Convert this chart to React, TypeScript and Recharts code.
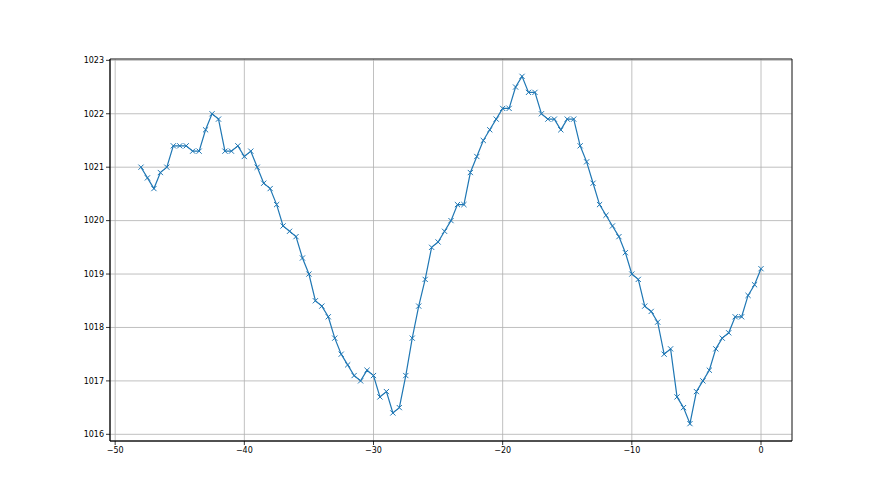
import * as React from "react"
import {
  LineChart,
  Line,
  XAxis,
  YAxis,
  CartesianGrid,
  ReferenceArea,
} from "recharts"

const hours = [
  -48, -47.5, -47, -46.5, -46, -45.5, -45, -44.5, -44, -43.5,
  -43, -42.5, -42, -41.5, -41, -40.5, -40, -39.5, -39, -38.5,
  -38, -37.5, -37, -36.5, -36, -35.5, -35, -34.5, -34, -33.5,
  -33, -32.5, -32, -31.5, -31, -30.5, -30, -29.5, -29, -28.5,
  -28, -27.5, -27, -26.5, -26, -25.5, -25, -24.5, -24, -23.5,
  -23, -22.5, -22, -21.5, -21, -20.5, -20, -19.5, -19, -18.5,
  -18, -17.5, -17, -16.5, -16, -15.5, -15, -14.5, -14, -13.5,
  -13, -12.5, -12, -11.5, -11, -10.5, -10, -9.5, -9, -8.5,
  -8, -7.5, -7, -6.5, -6, -5.5, -5, -4.5, -4, -3.5,
  -3, -2.5, -2, -1.5, -1, -0.5, 0,
]

const pressure = [
  1021.0, 1020.8, 1020.6, 1020.9, 1021.0, 1021.4, 1021.4, 1021.4, 1021.3, 1021.3,
  1021.7, 1022.0, 1021.9, 1021.3, 1021.3, 1021.4, 1021.2, 1021.3, 1021.0, 1020.7,
  1020.6, 1020.3, 1019.9, 1019.8, 1019.7, 1019.3, 1019.0, 1018.5, 1018.4, 1018.2,
  1017.8, 1017.5, 1017.3, 1017.1, 1017.0, 1017.2, 1017.1, 1016.7, 1016.8, 1016.4,
  1016.5, 1017.1, 1017.8, 1018.4, 1018.9, 1019.5, 1019.6, 1019.8, 1020.0, 1020.3,
  1020.3, 1020.9, 1021.2, 1021.5, 1021.7, 1021.9, 1022.1, 1022.1, 1022.5, 1022.7,
  1022.4, 1022.4, 1022.0, 1021.9, 1021.9, 1021.7, 1021.9, 1021.9, 1021.4, 1021.1,
  1020.7, 1020.3, 1020.1, 1019.9, 1019.7, 1019.4, 1019.0, 1018.9, 1018.4, 1018.3,
  1018.1, 1017.5, 1017.6, 1016.7, 1016.5, 1016.2, 1016.8, 1017.0, 1017.2, 1017.6,
  1017.8, 1017.9, 1018.2, 1018.2, 1018.6, 1018.8, 1019.1,
]

const xTicks = [-50, -40, -30, -20, -10, 0]
const yTicks = [1016, 1017, 1018, 1019, 1020, 1021, 1022, 1023]

const X_MIN = -50.4
const X_MAX = 2.4
const Y_MIN = 1015.875
const Y_MAX = 1023.025

const data = hours.map((h, i) => ({ h, p: pressure[i] }))

const BLUE = "#1f77b4"
const fmt = (v: number) => (v < 0 ? "\u2212" + Math.abs(v) : String(v))

function XMark(props: any) {
  const { cx, cy } = props
  if (cx == null || cy == null) return null
  const s = 2.6
  return (
    <g>
      <line x1={cx - s} y1={cy - s} x2={cx + s} y2={cy + s} stroke={BLUE} strokeWidth={1} />
      <line x1={cx - s} y1={cy + s} x2={cx + s} y2={cy - s} stroke={BLUE} strokeWidth={1} />
    </g>
  )
}

const tickStyle = { fontSize: 8, fill: "#000", fontFamily: "DejaVu Sans" }

export default function App() {
  return (
    <div style={{ position: "absolute", left: 0, top: 0, background: "#fff" }}>
      <LineChart
        width={880}
        height={495}
        data={data}
        margin={{ top: 59, right: 88, bottom: 24, left: 0 }}
      >
        <CartesianGrid stroke="#b0b0b0" strokeWidth={0.8} />
        <XAxis
          dataKey="h"
          type="number"
          domain={[X_MIN, X_MAX]}
          ticks={xTicks}
          allowDataOverflow
          tickFormatter={fmt}
          tick={tickStyle}
          tickSize={4}
          height={30}
          stroke="#000"
          axisLine={{ stroke: "#000", strokeWidth: 0.8 }}
          tickLine={{ stroke: "#000", strokeWidth: 0.8 }}
        />
        <YAxis
          type="number"
          domain={[Y_MIN, Y_MAX]}
          ticks={yTicks}
          allowDataOverflow
          tick={tickStyle}
          tickSize={4}
          width={110}
          stroke="#000"
          axisLine={{ stroke: "#000", strokeWidth: 0.8 }}
          tickLine={{ stroke: "#000", strokeWidth: 0.8 }}
        />
        <ReferenceArea
          x1={X_MIN}
          x2={X_MAX}
          y1={Y_MIN}
          y2={Y_MAX}
          fill="none"
          stroke="#000"
          strokeWidth={0.8}
          ifOverflow="visible"
        />
        <Line
          dataKey="p"
          stroke={BLUE}
          strokeWidth={1.2}
          dot={<XMark />}
          activeDot={false}
          isAnimationActive={false}
        />
      </LineChart>
    </div>
  )
}
